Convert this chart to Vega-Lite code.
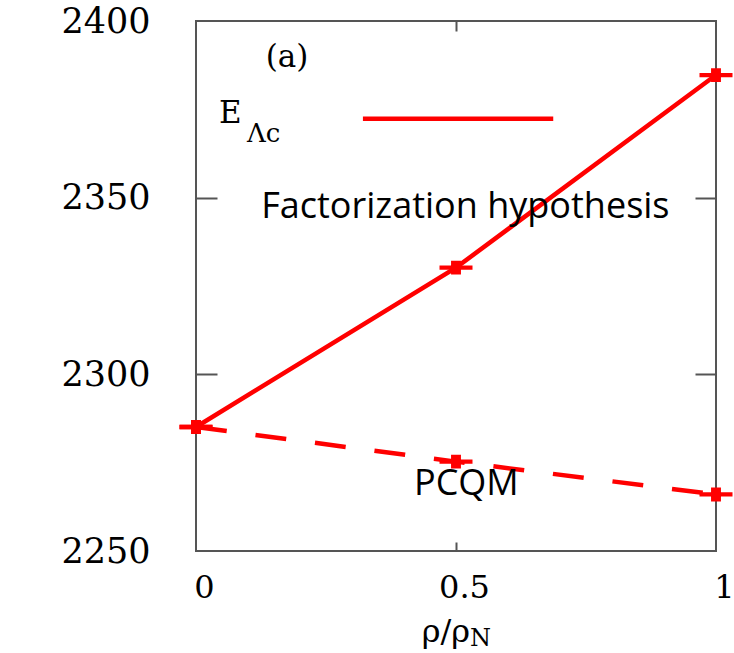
{
  "$schema": "https://vega.github.io/schema/vega-lite/v6.json",
  "width": 520,
  "height": 530,
  "autosize": {"type": "none"},
  "padding": {"left": 196, "top": 21, "right": 18, "bottom": 102},
  "background": "white",
  "config": {
    "view": {"stroke": "#555555", "strokeWidth": 2},
    "axis": {"grid": false, "domain": false, "labelColor": "#000000", "tickColor": "#555555", "tickWidth": 2}
  },
  "datasets": {
    "energies": [
      {"rho": 0, "E": 2285.1, "model": "Factorization hypothesis"},
      {"rho": 0.5, "E": 2330.2, "model": "Factorization hypothesis"},
      {"rho": 1, "E": 2384.7, "model": "Factorization hypothesis"},
      {"rho": 0, "E": 2285.1, "model": "PCQM"},
      {"rho": 0.5, "E": 2275.3, "model": "PCQM"},
      {"rho": 1, "E": 2266.0, "model": "PCQM"}
    ]
  },
  "resolve": {"axis": {"x": "independent", "y": "independent"}},
  "layer": [
    {
      "data": {"name": "energies"},
      "transform": [{"filter": "datum.model === 'Factorization hypothesis'"}],
      "mark": {"type": "line", "color": "#ff0000", "strokeWidth": 4.5},
      "encoding": {
        "x": {"field": "rho", "type": "quantitative", "scale": {"domain": [0, 1], "nice": false, "zero": false},
          "axis": {"orient": "bottom", "values": [0, 0.5, 1], "ticks": false, "title": null, "labelFont": "DejaVu Serif", "labelFontSize": 32, "labelPadding": 21, "labelOffset": 8, "labelFlush": false, "format": "~g"}},
        "y": {"field": "E", "type": "quantitative", "scale": {"domain": [2250, 2400], "nice": false, "zero": false},
          "axis": {"orient": "left", "values": [2250, 2300, 2350, 2400], "format": "d", "ticks": false, "title": null, "labelFont": "DejaVu Serif", "labelFontSize": 35, "labelPadding": 46, "labelFlush": false, "labelBaseline": "middle"}}
      }
    },
    {
      "data": {"name": "energies"},
      "transform": [{"filter": "datum.model === 'PCQM'"}],
      "mark": {"type": "line", "color": "#ff0000", "strokeWidth": 4.5, "strokeDash": [31, 29]},
      "encoding": {
        "x": {"field": "rho", "type": "quantitative",
          "axis": {"orient": "bottom", "offset": -9, "values": [0.5], "labels": false, "tickSize": 9, "title": null}},
        "y": {"field": "E", "type": "quantitative",
          "axis": {"orient": "right", "offset": -21, "values": [2300, 2350], "labels": false, "tickSize": 21, "title": null}}
      }
    },
    {
      "data": {"name": "energies"},
      "mark": {"type": "point", "shape": "M-1,-0.13H1V0.13H-1Z M-0.3,-0.42H0.3V0.42H-0.3Z", "filled": true, "color": "#ff0000", "opacity": 1, "size": 1089},
      "encoding": {
        "x": {"field": "rho", "type": "quantitative",
          "axis": {"orient": "top", "offset": -10, "values": [0.5], "labels": false, "tickSize": 10, "title": null}},
        "y": {"field": "E", "type": "quantitative",
          "axis": {"orient": "left", "offset": -21, "values": [2300, 2350], "labels": false, "tickSize": 21, "title": null}}
      }
    },
    {
      "data": {"values": [{}]},
      "mark": {"type": "rule", "color": "#ff0000", "strokeWidth": 4.5},
      "encoding": {
        "x": {"datum": 0.321, "type": "quantitative", "axis": null},
        "x2": {"datum": 0.687},
        "y": {"datum": 2372.3, "type": "quantitative", "axis": null}
      }
    },
    {
      "data": {"values": [{}]},
      "mark": {"type": "text", "text": "(a)", "font": "DejaVu Serif", "fontSize": 31, "align": "center", "baseline": "alphabetic", "color": "#000000"},
      "encoding": {
        "x": {"datum": 0.175, "type": "quantitative", "axis": null},
        "y": {"datum": 2387.0, "type": "quantitative", "axis": null}
      }
    },
    {
      "data": {"values": [{}]},
      "mark": {"type": "text", "text": "E", "font": "DejaVu Serif", "fontSize": 31, "align": "left", "baseline": "alphabetic", "color": "#000000"},
      "encoding": {
        "x": {"datum": 0.044, "type": "quantitative", "axis": null},
        "y": {"datum": 2371.1, "type": "quantitative", "axis": null}
      }
    },
    {
      "data": {"values": [{}]},
      "mark": {"type": "text", "text": "Λc", "font": "DejaVu Serif", "fontSize": 26, "align": "left", "baseline": "alphabetic", "color": "#000000"},
      "encoding": {
        "x": {"datum": 0.098, "type": "quantitative", "axis": null},
        "y": {"datum": 2365.8, "type": "quantitative", "axis": null}
      }
    },
    {
      "data": {"values": [{}]},
      "mark": {"type": "text", "text": "Factorization hypothesis", "font": "Open Sans", "fontSize": 36, "align": "center", "baseline": "alphabetic", "color": "#000000"},
      "encoding": {
        "x": {"datum": 0.518, "type": "quantitative", "axis": null},
        "y": {"datum": 2344.2, "type": "quantitative", "axis": null}
      }
    },
    {
      "data": {"values": [{}]},
      "mark": {"type": "text", "text": "PCQM", "font": "Open Sans", "fontSize": 36, "align": "center", "baseline": "alphabetic", "color": "#000000"},
      "encoding": {
        "x": {"datum": 0.52, "type": "quantitative", "axis": null},
        "y": {"datum": 2265.8, "type": "quantitative", "axis": null}
      }
    },
    {
      "data": {"values": [{}]},
      "mark": {"type": "text", "text": "ρ/ρ", "font": "DejaVu Serif", "fontSize": 32, "align": "right", "baseline": "alphabetic", "color": "#000000"},
      "encoding": {
        "x": {"datum": 0.527, "type": "quantitative", "axis": null},
        "y": {"datum": 2224.3, "type": "quantitative", "axis": null}
      }
    },
    {
      "data": {"values": [{}]},
      "mark": {"type": "text", "text": "N", "font": "DejaVu Serif", "fontSize": 24, "align": "left", "baseline": "alphabetic", "color": "#000000"},
      "encoding": {
        "x": {"datum": 0.527, "type": "quantitative", "axis": null},
        "y": {"datum": 2223.0, "type": "quantitative", "axis": null}
      }
    }
  ]
}
